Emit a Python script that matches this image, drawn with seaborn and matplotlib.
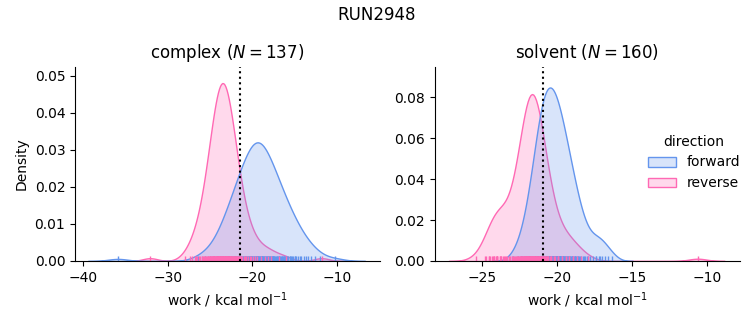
import matplotlib
matplotlib.use("Agg")
import matplotlib.pyplot as plt
import pandas as pd
import seaborn as sns

# ---------------- data ----------------
phases = ["complex", "solvent"]
n_labels = [137, 160]
directions = ["forward", "reverse"]
colors = ["cornflowerblue", "hotpink"]
dg_estimates = [-21.46, -20.93]

complex_forward = [
    -35.9, -26.4, -25.6, -25.0, -24.5, -24.2, -24.0, -23.8, -23.6, -23.4,
    -23.3, -23.2, -23.0, -22.9, -22.8, -22.7, -22.6, -22.5, -22.4,
    -22.3, -22.2, -22.1, -22.1, -22.0, -21.9,
    -21.8, -21.7, -21.7, -21.6, -21.5, -21.5, -21.4,
    -21.3, -21.3, -21.2, -21.1, -21.1, -21.0, -20.9, -20.9,
    -20.8, -20.8, -20.7, -20.7, -20.6, -20.5, -20.5, -20.4, -20.4,
    -20.3, -20.3, -20.2, -20.2, -20.1, -20.1, -20.0, -20.0, -19.9, -19.9,
    -19.8, -19.8, -19.7, -19.7, -19.6, -19.6, -19.5, -19.5, -19.4, -19.4,
    -19.5, -19.3,
    -19.3, -19.3, -19.2, -19.2, -19.1, -19.1, -19.0, -19.0, -18.9, -18.9,
    -18.8, -18.8, -18.7, -18.7, -18.6, -18.6, -18.5, -18.5, -18.4, -18.4,
    -18.3, -18.3, -18.2, -18.1, -18.1, -18.0, -18.0, -17.9, -17.9,
    -17.8, -17.7, -17.7, -17.6, -17.5, -17.5, -17.4, -17.4,
    -17.3, -17.2, -17.1, -17.1, -17.0, -16.9, -16.9,
    -16.8, -16.7, -16.6, -16.5, -16.5, -16.4,
    -16.3, -16.2, -16.1, -16.0, -15.9,
    -15.8, -15.6, -15.5, -15.4,
    -15.3, -15.2, -15.0, -14.9,
    -14.8, -14.6, -14.4,
    -14.2, -13.9, -13.7, -13.4,
    -13.1, -12.6, -12.0, -10.2,
]

complex_reverse = [
    -32.1, -28.0, -27.4, -27.1, -26.8, -26.7, -26.5, -26.3,
    -26.2, -26.0, -25.9, -25.8,
    -25.7, -25.6, -25.6, -25.5, -25.4, -25.3, -25.3,
    -25.2, -25.1, -25.0, -25.0, -25.0, -24.9, -24.9, -24.8, -24.8,
    -24.7, -24.7, -24.6, -24.6, -24.6, -24.5, -24.5, -24.5, -24.4, -24.4, -24.3, -24.3, -24.3,
    -24.2, -24.2, -24.2, -24.1, -24.1, -24.1, -24.0, -24.0, -24.0, -24.0,
    -23.9, -23.9, -23.9, -23.8, -23.8, -23.8,
    -23.7, -23.7, -23.7, -23.6, -23.6, -23.6, -23.6, -23.5, -23.5, -23.5,
    -23.4, -23.4, -23.4, -23.4, -23.3, -23.3, -23.3,
    -23.2, -23.2, -23.2, -23.1, -23.1, -23.1, -23.0, -23.0, -23.0, -23.0,
    -22.9, -22.9, -22.9, -22.8, -22.8, -22.8,
    -22.7, -22.7, -22.7, -22.6, -22.6, -22.5, -22.5, -22.5, -22.4, -22.4, -22.3, -22.3, -22.3,
    -22.2, -22.2, -22.1, -22.0, -22.0, -21.9, -21.9, -21.8, -21.8,
    -21.7, -21.7, -21.6, -21.5, -21.4, -21.3, -21.3,
    -21.2, -21.0, -20.9, -20.8,
    -20.7, -20.5, -20.3,
    -20.1, -19.9, -19.7, -19.4, -19.0, -18.5, -18.1,
    -17.8, -16.9, -16.0,
    -11.8,
]

solvent_forward = [
    -22.9, -22.6, -22.4, -22.3, -22.2, -22.1, -22.0,
    -21.95, -21.9, -21.85, -21.8, -21.75,
    -21.7, -21.65, -21.6, -21.6, -21.55, -21.5, -21.5,
    -21.45, -21.4, -21.4, -21.35, -21.35, -21.3, -21.3, -21.25, -21.25,
    -21.2, -21.2, -21.15, -21.15, -21.1, -21.1, -21.1, -21.05, -21.05, -21.0, -21.0, -21.0,
    -20.95, -20.95, -20.9, -20.9, -20.9, -20.85, -20.85, -20.8, -20.8, -20.8, -20.75, -20.75, -20.75,
    -20.7, -20.7, -20.7, -20.65, -20.65, -20.6, -20.6, -20.6, -20.55, -20.55, -20.5, -20.5, -20.5, -20.5,
    -20.45, -20.45, -20.4, -20.4, -20.4, -20.35, -20.35, -20.3, -20.3, -20.3, -20.25, -20.25, -20.25,
    -20.2, -20.2, -20.15, -20.15, -20.15, -20.1, -20.1, -20.05, -20.05, -20.05, -20.0, -20.0, -20.0,
    -19.95, -19.95, -19.9, -19.9, -19.85, -19.85, -19.85, -19.8, -19.8, -19.75, -19.75, -19.75,
    -19.7, -19.7, -19.65, -19.65, -19.6, -19.6, -19.55, -19.55, -19.5, -19.5,
    -19.45, -19.45, -19.4, -19.4, -19.35, -19.3, -19.3, -19.25, -19.25,
    -19.2, -19.2, -19.15, -19.1, -19.1, -19.05, -19.0, -19.0,
    -18.95, -18.9, -18.85, -18.8, -18.8, -18.75,
    -18.7, -18.65, -18.6, -18.55, -18.5,
    -18.45, -18.35, -18.25, -18.2, -18.1, -18.0,
    -17.9, -17.8, -17.6, -17.35, -17.1,
    -17.4, -17.2, -17.0, -16.8, -16.6, -16.3,
]

solvent_reverse = [
    -25.4, -24.75, -24.7, -24.5, -24.5, -24.45, -24.3, -24.25, -24.2, -24.2,
    -24.05, -24.0, -24.0, -23.95, -23.95, -23.8, -23.75, -23.7, -23.7,
    -23.55, -23.5, -23.45, -23.3, -23.2, -23.0,
    -23.4, -23.2, -23.1, -22.95, -22.9, -22.85,
    -22.75, -22.7, -22.65, -22.65, -22.6, -22.55,
    -22.5, -22.45, -22.45, -22.4, -22.4, -22.35, -22.35, -22.3, -22.3,
    -22.25, -22.25, -22.2, -22.2, -22.15, -22.15, -22.15, -22.1, -22.1, -22.05, -22.05, -22.05,
    -22.0, -22.0, -21.98, -21.95, -21.95, -21.92, -21.9, -21.9, -21.88, -21.85, -21.85, -21.82, -21.8, -21.8, -21.78,
    -21.75, -21.74, -21.72, -21.7, -21.7, -21.68, -21.66, -21.65, -21.64, -21.62, -21.6, -21.6, -21.58, -21.56, -21.55, -21.53,
    -21.52, -21.5, -21.5, -21.48, -21.45, -21.45, -21.42, -21.4, -21.4, -21.38, -21.35, -21.35, -21.32, -21.3, -21.28,
    -21.25, -21.25, -21.2, -21.2, -21.15, -21.15, -21.15, -21.1, -21.1, -21.05, -21.05, -21.05,
    -21.0, -20.95, -20.95, -20.9, -20.9, -20.85, -20.85, -20.8, -20.8,
    -20.75, -20.7, -20.65, -20.65, -20.6, -20.55,
    -20.45, -20.4, -20.35, -20.2, -20.1, -19.9,
    -20.6, -20.4, -20.15, -19.9, -19.9, -19.65, -19.65, -19.4, -19.4,
    -19.15, -19.15, -18.9, -18.9, -18.65, -18.4, -17.9,
    -10.6,
]

xlims = [(-40.98, -4.89), (-28.11, -7.78)]
ylims = [(0, 0.0525), (0, 0.0949)]

# ---------------- tidy table ----------------
samples = {
    ("complex", "forward"): complex_forward,
    ("complex", "reverse"): complex_reverse,
    ("solvent", "forward"): solvent_forward,
    ("solvent", "reverse"): solvent_reverse,
}
rows = []
for (phase, direction), values in samples.items():
    for v in values:
        rows.append({"phase": phase, "direction": direction, "work": v})
df = pd.DataFrame(rows)

g = sns.displot(
    data=df, x="work", hue="direction", col="phase", kind="kde",
    fill=True, rug=True, hue_order=directions, col_order=phases,
    palette=colors, facet_kws=dict(sharex=False, sharey=False),
    height=3, aspect=1.1,
)

fig = g.figure
fig.set_size_inches(7.53, 3.25)
fig.subplots_adjust(left=75 / 753, right=740 / 753, bottom=64 / 325,
                    top=1 - 66.7 / 325, wspace=0.18)

for ax, phase, n, est, xl, yl in zip(g.axes.flat, phases, n_labels,
                                      dg_estimates, xlims, ylims):
    ax.axvline(est, color="black", linestyle=":", linewidth=1.5)
    ax.set_title(f"{phase} ($N={n}$)", fontsize=12)
    ax.set_xlim(*xl)
    ax.set_ylim(*yl)
    ax.set_xlabel("work / kcal mol$^{-1}$")

g.axes.flat[0].set_ylabel("Density")
g.axes.flat[1].set_ylabel("")
fig.suptitle("RUN2948", fontsize=12)

fig.savefig("out.png", dpi=100)
